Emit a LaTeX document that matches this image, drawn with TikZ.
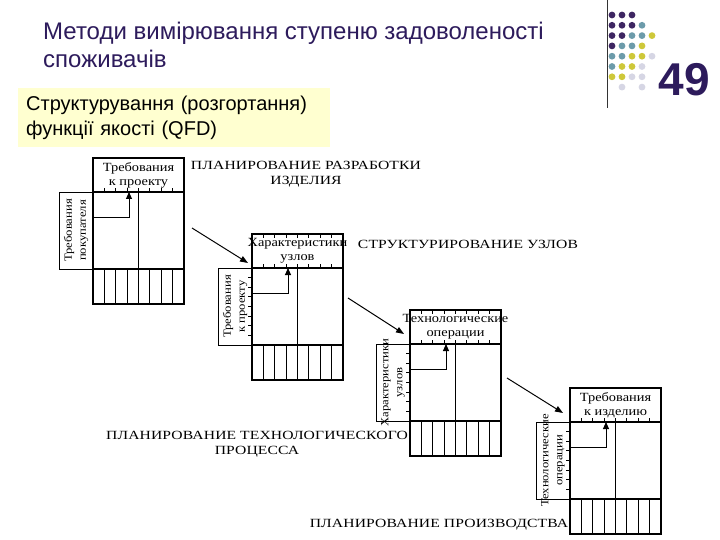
\documentclass[tikz,border=0pt]{standalone}
\usepackage{fontspec}
\setmainfont{Liberation Serif}
\setsansfont{Liberation Sans}
\newfontfamily\scanfont[FakeStretch=1.15]{Liberation Serif}
\newfontfamily\capsfont[LetterSpace=1, FakeStretch=1.25]{Liberation Serif}
\usetikzlibrary{arrows.meta, calc}
\definecolor{titlepurple}{RGB}{45,27,92}
\definecolor{dotpurple}{RGB}{62,38,98}
\definecolor{dotteal}{RGB}{108,155,170}
\definecolor{dotyellow}{RGB}{206,200,58}
\definecolor{dotgray}{RGB}{214,214,228}
\definecolor{noteyellow}{RGB}{255,255,208}

\begin{document}
\begin{tikzpicture}[x=1pt, y=-1pt,
  houseline/.style={line width=1.7pt, line cap=rect},
  colline/.style={line width=1.2pt},
  tickline/.style={line width=1pt},
  sidebox/.style={line width=0.6pt},
  elbowarr/.style={-{Triangle[length=7pt,width=6pt]}, line width=0.9pt},
  darr/.style={-{Triangle[length=8pt,width=6pt]}, line width=1pt},
  hdtext/.style={font=\scanfont\fontsize{12.5}{14}\selectfont, align=center, inner sep=0pt},
  sidetext/.style={font=\scanfont\fontsize{11}{14}\selectfont, align=center, inner sep=0pt, rotate=90},
  captext/.style={font=\capsfont\fontsize{12.5}{15}\selectfont, align=center, inner sep=0pt}
]
\fill[white] (0,0) rectangle (720,540);
\useasboundingbox (0,0) rectangle (720,540);

% ── Slide header ─────────────────────────────────────────────────────────
\node[anchor=north west, inner sep=0pt, align=left, text=titlepurple,
      font=\sffamily\fontsize{24}{28}\selectfont] (title) at (43,22)
      {Методи вимірювання ступеню задоволеності\\споживачів};
\node[anchor=north west, fill=noteyellow, inner xsep=8pt, inner ysep=0pt,
      text width=296pt, minimum height=59pt, align=left,
      font=\sffamily\fontsize{20}{25}\selectfont] (sub) at (18,88)
      {Структурування (розгортання)\\функції якості (QFD)};
\draw[line width=1pt, black!80] (607,0) -- (607,108);
\node[inner sep=0pt, text=titlepurple, font=\sffamily\bfseries\fontsize{46}{46}\selectfont]
      (num) at (684,80) {49};

% dots, coloured along the diagonal
\foreach \c/\r/\clr in {1/1/dotpurple, 2/1/dotpurple, 3/1/dotpurple,
    1/2/dotpurple, 2/2/dotpurple, 3/2/dotpurple, 4/2/dotteal,
    1/3/dotpurple, 2/3/dotpurple, 3/3/dotteal, 4/3/dotteal, 5/3/dotyellow,
    1/4/dotpurple, 2/4/dotteal, 3/4/dotteal, 4/4/dotyellow,
    1/5/dotteal, 2/5/dotteal, 3/5/dotyellow, 4/5/dotyellow, 5/5/dotgray,
    1/6/dotteal, 2/6/dotyellow, 3/6/dotyellow, 4/6/dotgray,
    1/7/dotyellow, 2/7/dotyellow, 3/7/dotgray, 4/7/dotgray,
    2/8/dotgray, 4/8/dotgray}
  \fill[\clr] (602+10*\c, 4.7+10.3*\r) circle (3.4pt);

% ── Four QFD houses (anchor = left end of the header line) ───────────────
\foreach \n/\x/\y/\hd/\sd in {
    1/93/192/{Требования\\к проекту}/{Требования\\покупателя},
    2/252/268/{Характеристики\\узлов}/{Требования\\к проекту},
    3/410/344/{Технологические\\операции}/{Характеристики\\узлов},
    4/570/422/{Требования\\к изделию}/{Технологические\\операции}} {
  \coordinate (d\n) at (\x,\y);
  \draw[houseline] (\x,\y-34) rectangle (\x+91,\y+112);
  \draw[houseline] (\x,\y) -- (\x+91,\y);
  \draw[houseline] (\x,\y+77) -- (\x+91,\y+77);
  \draw[houseline] (\x+45.5,\y) -- (\x+45.5,\y+77);
  \foreach \k in {1,...,7} {
    \draw[colline] (\x+\k*11.375,\y+77) -- (\x+\k*11.375,\y+112);
    \draw[tickline] (\x+\k*11.375,\y) -- ++(0,-4);
  }
  \draw[sidebox] (\x,\y) -- (\x-34,\y) -- (\x-34,\y+77) -- (\x,\y+77);
  \node[hdtext] (hd\n) at (\x+45.5,\y-17) {\hd};
  \node[sidetext] (sd\n) at (\x-17,\y+38.5) {\sd};
  \coordinate (in\n) at (\x,\y+25);
  \coordinate (up\n) at (\x+36,\y);
  \draw[elbowarr] (in\n) -| (up\n);
}

% ticks on the left edge (houses 2-4) and on the top edge (houses 2-3)
\foreach \n in {2,3,4}
  \foreach \k in {1,...,7}
    \draw[tickline] ($(d\n)+(0,\k*9.625)$) -- ++(-4,0);
\foreach \n in {2,3}
  \foreach \k in {1,...,7}
    \draw[tickline] ($(d\n)+(\k*11.375,-34)$) -- ++(0,4);

% ── Stage captions ───────────────────────────────────────────────────────
\node[captext] (cap1) at (306,174) {ПЛАНИРОВАНИЕ РАЗРАБОТКИ\\ИЗДЕЛИЯ};
\node[captext] (cap2) at (468,244) {СТРУКТУРИРОВАНИЕ УЗЛОВ};
\node[captext] (cap3) at (257,444) {ПЛАНИРОВАНИЕ ТЕХНОЛОГИЧЕСКОГО\\ПРОЦЕССА};
\node[captext] (cap4) at (439,525) {ПЛАНИРОВАНИЕ ПРОИЗВОДСТВА};

% ── Arrows: house → next house ───────────────────────────────────────────
\coordinate (p1) at (192,228); \coordinate (q1) at (248,263);
\coordinate (p2) at (348,298); \coordinate (q2) at (404,334);
\coordinate (p3) at (507,378); \coordinate (q3) at (563,413);
\draw[darr] (p1) -- (q1);
\draw[darr] (p2) -- (q2);
\draw[darr] (p3) -- (q3);

\end{tikzpicture}
\end{document}
